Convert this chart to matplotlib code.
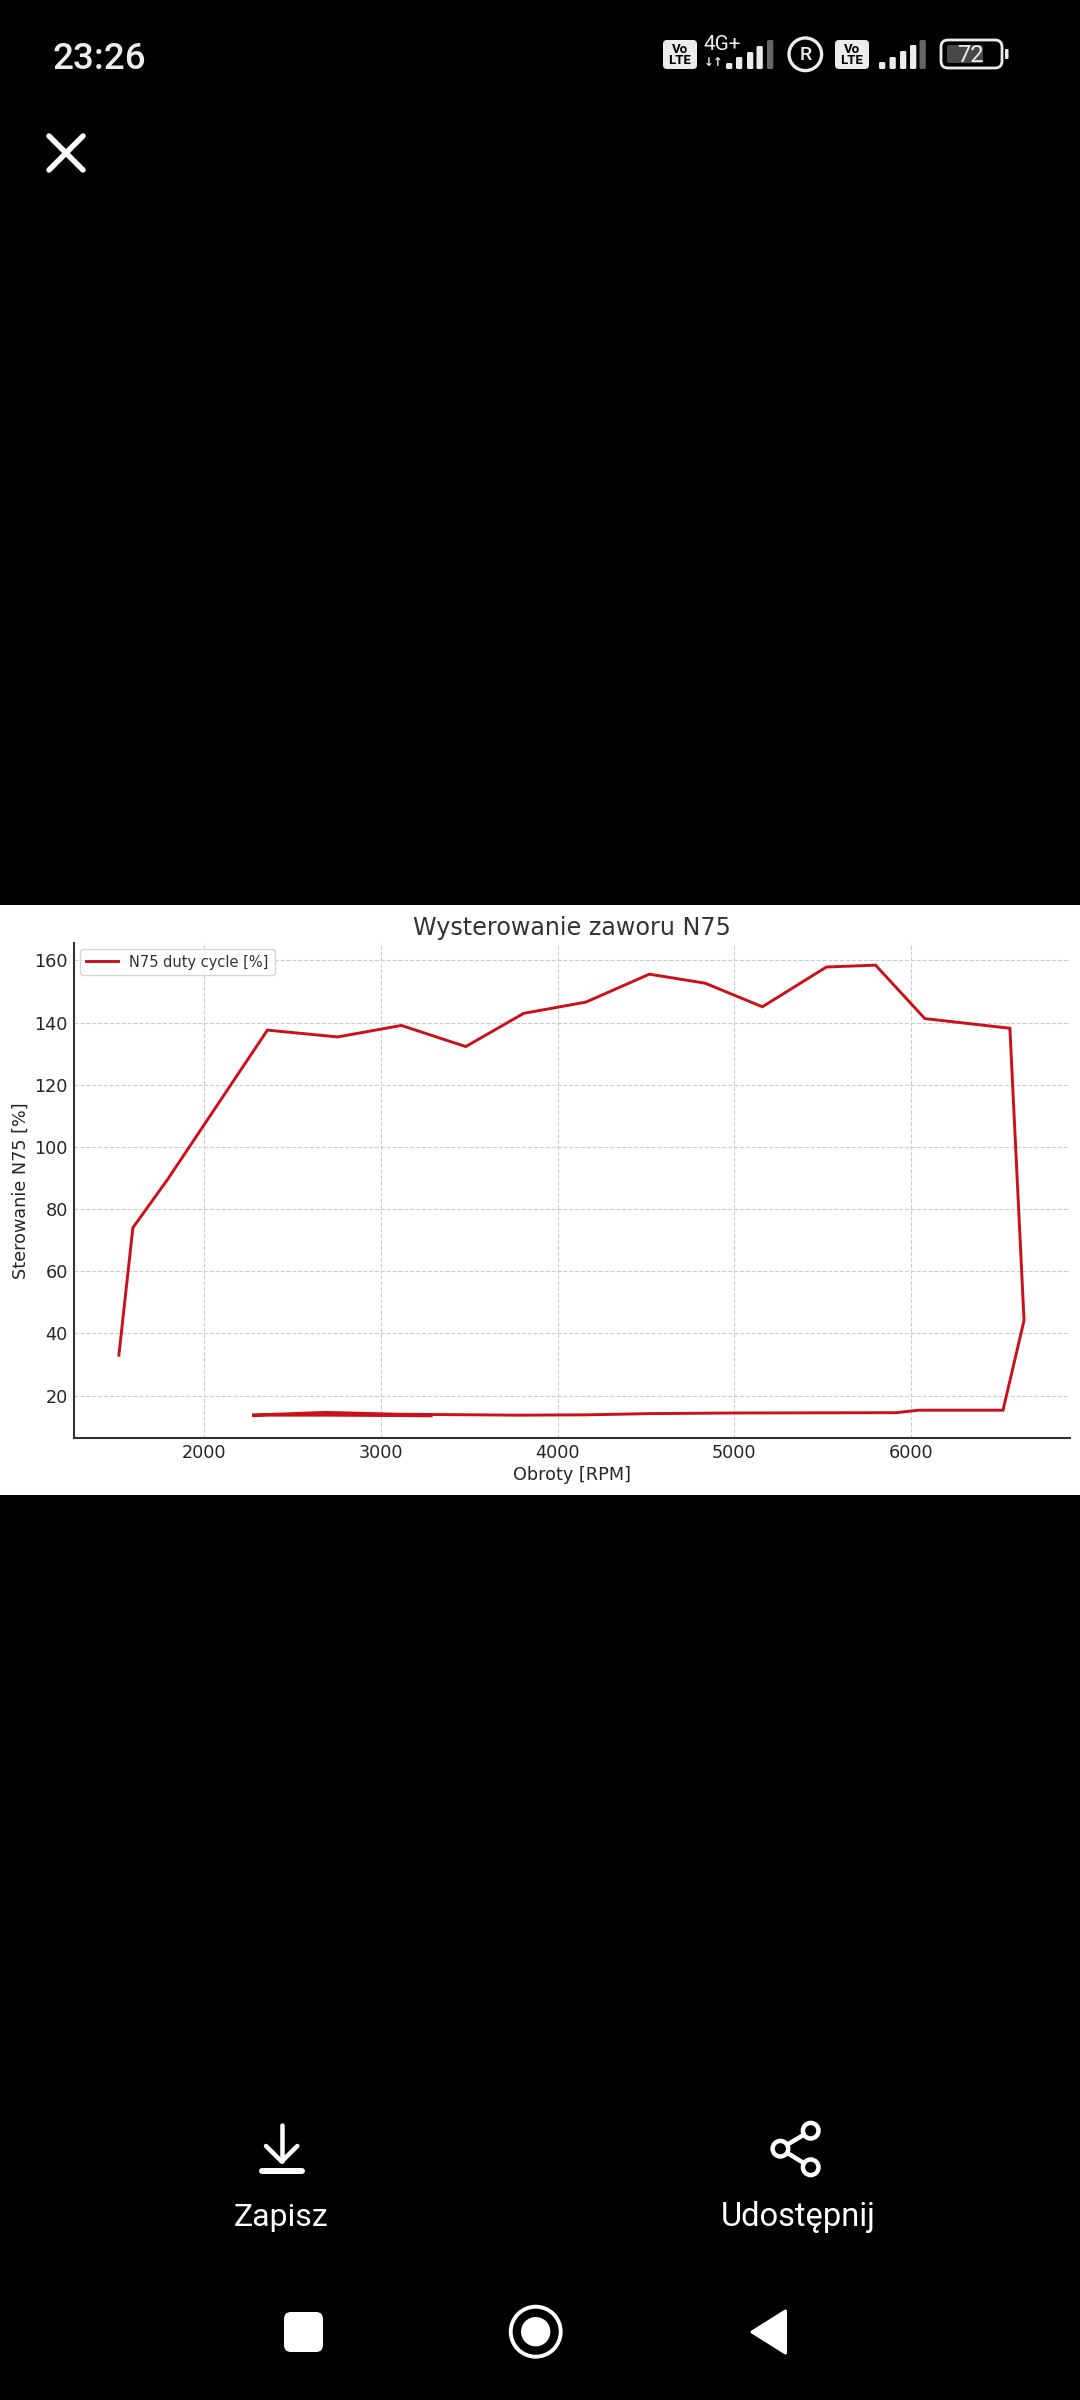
import matplotlib
matplotlib.use("Agg")
import matplotlib.pyplot as plt
from matplotlib.patches import Rectangle, FancyBboxPatch, Circle, Polygon

# values
rpm = [1519, 1598, 1795, 2359, 2756, 3117, 3481, 3809, 4160, 4520, 4835, 5159, 5521, 5799,
       6078, 6559, 6639, 6520, 6043, 5916, 5000, 4520, 4160, 3770, 3100, 2686, 2272, 2700, 3285]
duty = [33.0, 74.0, 89.6, 137.6, 135.4, 139.1, 132.3, 143.0, 146.6, 155.6, 152.7, 145.1, 157.9, 158.5,
        141.3, 138.2, 44.2, 15.3, 15.3, 14.5, 14.4, 14.2, 13.8, 13.7, 14.0, 14.6, 13.7, 13.7, 13.5]
x_ticks = [2000, 3000, 4000, 5000, 6000]
y_ticks = [20, 40, 60, 80, 100, 120, 140, 160]

W, H = 1080, 2400
fig = plt.figure(figsize=(W / 100, H / 100), dpi=100, facecolor="black")

# screen layer, in pixels
ui = fig.add_axes([0, 0, 1, 1])
ui.set_xlim(0, W)
ui.set_ylim(H, 0)
ui.axis("off")
LIGHT = "#ececec"


def px_line(xs, ys, lw, color="white"):
    ui.plot(xs, ys, color=color, lw=lw * 0.72, solid_capstyle="round", solid_joinstyle="round")


def box(x0, y0, x1, y1, r, **kw):
    ui.add_patch(FancyBboxPatch((x0 + r, y0 + r), x1 - x0 - 2 * r, y1 - y0 - 2 * r,
                                boxstyle=f"round,pad={r}", **kw))


def bars(xs, tops, bottom=69):
    for i, (x0, top) in enumerate(zip(xs, tops)):
        box(x0, top, x0 + 6.3, bottom, 1.5, fc="#666666" if i == 4 else LIGHT, ec="none")


# status bar
ui.text(53, 69, "23:26", color=LIGHT, family="Roboto", fontsize=26.5, weight="medium", va="baseline", ha="left")
for x0 in (663, 835):
    box(x0, 40, x0 + 34, 69, 4, fc=LIGHT, ec="none")
    ui.text(x0 + 17, 49.5, "Vo", color="black", family="Roboto", fontsize=9.5, weight="bold", ha="center", va="center")
    ui.text(x0 + 17, 61, "LTE", color="black", family="Roboto", fontsize=9.5, weight="bold", ha="center", va="center")
ui.text(722.5, 45, "4G+", color=LIGHT, family="Roboto", fontsize=15, ha="center", va="center")
ui.text(714, 63, "\u2193\u2191", color=LIGHT, family="DejaVu Sans", fontsize=8.5, weight="bold", ha="center", va="center")
bars([726, 736, 747, 756.5, 767], [63, 57, 52, 46, 40])
ui.add_patch(Circle((805.3, 54.3), 16.3, fc="none", ec=LIGHT, lw=2.4))
ui.text(805.3, 54.5, "R", color=LIGHT, family="Roboto", fontsize=14, weight="medium", ha="center", va="center")
bars([879, 889.5, 900, 910, 919.5], [62, 57, 51, 45, 40])
box(941, 40, 1002, 68, 7, fc="none", ec=LIGHT, lw=2)
box(947, 45, 983, 63, 2, fc="#484848", ec="none")
ui.text(970.5, 55, "72", color=LIGHT, family="Roboto", fontsize=17, ha="center", va="center")
box(1005, 49, 1008.5, 59, 1, fc=LIGHT, ec="none")

# close icon
px_line([49, 83], [136, 170], 5.5)
px_line([83, 49], [136, 170], 5.5)

# white chart card
ui.add_patch(Rectangle((0, 905), W, 590, fc="white", ec="none"))

# save / share
px_line([281.7, 281.7], [2125, 2161], 4.5)
px_line([266, 281.7, 297.3], [2146, 2161.5, 2146], 4.5)
px_line([262, 302], [2171, 2171], 6)
ui.text(281, 2226, "Zapisz", color="white", family="Roboto", fontsize=23, ha="center", va="baseline")
ui.text(798, 2226, "Udostępnij", color="white", family="Roboto", fontsize=23.5, ha="center", va="baseline")
nodes = [(810.7, 2130.7), (780.4, 2148.7), (810.7, 2167.3)]
px_line([nodes[0][0], nodes[1][0], nodes[2][0]], [nodes[0][1], nodes[1][1], nodes[2][1]], 4.5)
for n in nodes:
    ui.add_patch(Circle(n, 7.8, fc="black", ec="white", lw=3.2, zorder=5))

# navigation bar
box(284, 2312, 323, 2352, 7, fc="white", ec="none")
ui.add_patch(Circle((535.7, 2331.7), 25, fc="none", ec="white", lw=2.8))
ui.add_patch(Circle((535.7, 2331.7), 14.7, fc="white", ec="none"))
ui.add_patch(Polygon([(752, 2332), (785.5, 2311), (785.5, 2353)], fc="white", ec="white", lw=2.2, joinstyle="round"))

# chart
left, right, top, bottom = 74, 1070, 942.9, 1437.7
ax = fig.add_axes([left / W, 1 - bottom / H, (right - left) / W, (bottom - top) / H], facecolor="white")
ax.plot(rpm, duty, color="#cc101a", lw=2.1, label="N75 duty cycle [%]", solid_joinstyle="miter")
ax.set_xlim(1265, 6899)
ax.set_ylim(6.45, 165.66)
ax.set_xticks(x_ticks)
ax.set_yticks(y_ticks)
ax.grid(True, color="#cccccc", linestyle="--", linewidth=0.8)
ax.set_axisbelow(True)
ax.tick_params(length=0, pad=4.5, labelsize=12.7, labelcolor="#262626")
for s in ("top", "right"):
    ax.spines[s].set_visible(False)
for s in ("left", "bottom"):
    ax.spines[s].set_linewidth(1.5)
    ax.spines[s].set_color("#333333")
ax.set_xlabel("Obroty [RPM]", fontsize=12.7, color="#262626", va="center")
ax.xaxis.set_label_coords(0.5, -0.0755)
ax.set_ylabel("Sterowanie N75 [%]", fontsize=12.7, color="#262626", va="center")
ax.yaxis.set_label_coords(-0.0535, 0.5)
ax.set_title("Wysterowanie zaworu N75", fontsize=17.2, color="#333333", pad=6)
ax.legend(loc="upper left", fontsize=10.5, frameon=True, edgecolor="#cccccc", fancybox=True,
          labelcolor="#333333", borderaxespad=0.4, handlelength=2.2)

fig.savefig("out.png", dpi=100, facecolor="black")
